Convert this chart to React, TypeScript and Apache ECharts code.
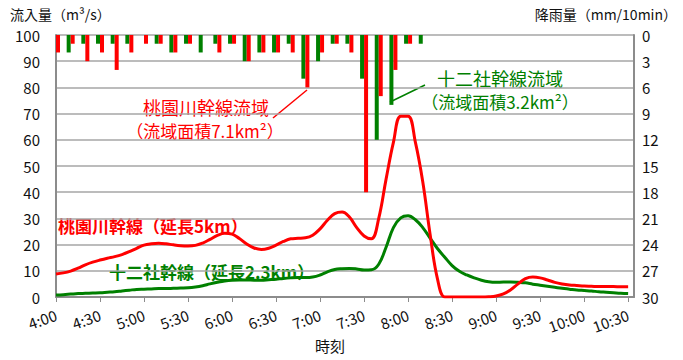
import React, { useEffect, useRef } from "react";
import * as echarts from "echarts";

// x-axis tick labels (every 30 minutes from 4:00)
const timeLabels = ["4:00", "4:30", "5:00", "5:30", "6:00", "6:30", "7:00", "7:30", "8:00", "8:30", "9:00", "9:30", "10:00", "10:30"];
const labelStepMin = 30;
const axisMaxMin = 394;

// inflow (m3/s), every 5 minutes from 4:00 to 10:30
const flowStepMin = 5;
const momozonoFlow = [
  8.8, 9.2, 9.9, 11.0, 12.3, 13.3,
  14.1, 14.8, 15.4, 16.2, 17.3, 18.6,
  19.8, 20.3, 20.5, 20.3, 19.9, 19.6,
  19.5, 19.7, 20.6, 22.0, 23.5, 24.3,
  24.0, 22.3, 20.2, 18.7, 18.1, 18.6,
  19.8, 21.2, 22.2, 22.4, 22.6, 23.6,
  26.0, 29.3, 31.8, 32.4, 30.5, 26.5,
  23.3, 22.2, 30, 45, 59, 69,
  69, 59, 44, 24, 7, 0,
  0, 0, 0, 0, 0, 0.1,
  0.4, 1.2, 2.8, 5.0, 7.0, 7.6,
  7.3, 6.5, 5.6, 5.0, 4.6, 4.4,
  4.2, 4.1, 4.0, 4.0, 4.0, 3.9,
  3.9,
];
const junisoFlow = [
  0.8, 0.9, 1.1, 1.3, 1.4, 1.5,
  1.6, 1.8, 2.0, 2.3, 2.6, 2.9,
  3.0, 3.1, 3.2, 3.2, 3.3, 3.4,
  3.5, 3.8, 4.3, 5.0, 5.6, 6.1,
  6.4, 6.5, 6.5, 6.4, 6.4, 6.6,
  6.8, 7.1, 7.3, 7.4, 7.4, 7.6,
  8.4, 9.6, 10.5, 10.8, 10.9, 10.7,
  10.3, 10.4, 12.5, 19.0, 26.5, 30.2,
  31.0, 29.5, 26.5, 22.5, 18.5, 15.2,
  12.0, 9.8, 8.4, 7.3, 6.4, 5.8,
  5.6, 5.7, 5.7, 5.6, 5.4, 4.9,
  4.5, 4.1, 3.7, 3.3, 3.0, 2.7,
  2.5, 2.3, 2.0, 1.8, 1.6, 1.4,
  1.3,
];

// rainfall (mm/10min), every 10 minutes from 4:00
const rainStepMin = 10;
const junisoRain = [0, 2, 1, 1, 1, 1, 0, 1, 2, 1, 2, 1, 1, 3, 2, 2, 1, 5, 3, 1, 1, 5, 12, 8, 1, 1];
const momozonoRain = [2, 1, 3, 2, 4, 2, 1, 1, 2, 1, 0, 2, 1, 3, 2, 2, 2, 6, 2, 1, 2, 18, 7, 4, 1, 0];

const RED = "#ff0000";
const GREEN = "#008000";
const FONT = '"Noto Sans CJK JP", "Noto Sans", sans-serif';

export default function App() {
  const ref = useRef<HTMLDivElement>(null);

  useEffect(() => {
    document.body.style.margin = "0";
    if (!ref.current) return;
    const chart = echarts.init(ref.current, undefined, { renderer: "svg" });

    const toPairs = (arr: number[], step: number) => arr.map((v, i) => [i * step, v]);
    const tickValues = timeLabels.map((_, i) => i * labelStepMin);

    chart.setOption({
      animation: false,
      textStyle: { fontFamily: FONT },
      grid: { left: 56, right: 49, top: 35, bottom: 63, containLabel: false },
      xAxis: {
        type: "value",
        min: 0,
        max: axisMaxMin,
        interval: labelStepMin,
        axisLine: { show: true, lineStyle: { color: "#8c8c8c", width: 2 } },
        axisTick: { show: true, length: 5, lineStyle: { color: "#8c8c8c", width: 1 }, customValues: tickValues },
        splitLine: { show: false },
        axisLabel: {
          rotate: 20,
          fontSize: 15,
          color: "#111",
          margin: 17,
          fontFamily: FONT,
          customValues: tickValues,
          formatter: (v: number) => (v % labelStepMin === 0 ? timeLabels[v / labelStepMin] ?? "" : ""),
        },
      },
      yAxis: [
        {
          type: "value",
          min: 0,
          max: 100,
          interval: 10,
          position: "left",
          axisLine: { show: true, lineStyle: { color: "#8c8c8c", width: 2 } },
          axisTick: { show: false },
          axisLabel: { fontSize: 15, color: "#111", margin: 16, fontFamily: FONT },
          splitLine: { show: true, lineStyle: { color: "#a6a6a6", width: 1.5 } },
        },
        {
          type: "value",
          min: 0,
          max: 30,
          interval: 3,
          inverse: true,
          position: "right",
          axisLine: { show: true, lineStyle: { color: "#8c8c8c", width: 2 } },
          axisTick: { show: false },
          axisLabel: { fontSize: 15, color: "#111", margin: 8, fontFamily: FONT },
          splitLine: { show: false },
        },
      ],
      series: [
        {
          type: "bar",
          name: "十二社幹線流域",
          xAxisIndex: 0,
          yAxisIndex: 1,
          data: toPairs(junisoRain, rainStepMin),
          barWidth: 4,
          barGap: "0%",
          itemStyle: { color: GREEN },
          z: 2,
        },
        {
          type: "bar",
          name: "桃園川幹線流域",
          xAxisIndex: 0,
          yAxisIndex: 1,
          data: toPairs(momozonoRain, rainStepMin),
          barWidth: 4,
          barGap: "0%",
          itemStyle: { color: RED },
          z: 2,
        },
        {
          type: "line",
          name: "十二社幹線",
          xAxisIndex: 0,
          yAxisIndex: 0,
          data: toPairs(junisoFlow, flowStepMin),
          smooth: 0.4,
          showSymbol: false,
          lineStyle: { color: GREEN, width: 3 },
          itemStyle: { color: GREEN },
          z: 3,
        },
        {
          type: "line",
          name: "桃園川幹線",
          xAxisIndex: 0,
          yAxisIndex: 0,
          data: toPairs(momozonoFlow, flowStepMin),
          smooth: 0.4,
          showSymbol: false,
          lineStyle: { color: RED, width: 3 },
          itemStyle: { color: RED },
          z: 4,
        },
      ],
      graphic: [
        { type: "text", x: 10, y: 14, style: { text: "流入量（m³/s）", font: `14px ${FONT}`, fill: "#111", verticalAlign: "middle" } },
        { type: "text", x: 677, y: 14, style: { text: "降雨量（mm/10min）", font: `14px ${FONT}`, fill: "#111", align: "right", verticalAlign: "middle" } },
        { type: "text", x: 330, y: 345, style: { text: "時刻", font: `15px ${FONT}`, fill: "#111", align: "center", verticalAlign: "middle" } },
        { type: "text", x: 206, y: 107, style: { text: "桃園川幹線流域", font: `18px ${FONT}`, fill: RED, align: "center", verticalAlign: "middle" } },
        { type: "text", x: 205, y: 130, style: { text: "（流域面積7.1km²）", font: `17px ${FONT}`, fill: RED, align: "center", verticalAlign: "middle" } },
        { type: "text", x: 500, y: 78, style: { text: "十二社幹線流域", font: `18px ${FONT}`, fill: GREEN, align: "center", verticalAlign: "middle" } },
        { type: "text", x: 500, y: 101, style: { text: "（流域面積3.2km²）", font: `17px ${FONT}`, fill: GREEN, align: "center", verticalAlign: "middle" } },
        { type: "text", x: 58, y: 225, style: { text: "桃園川幹線（延長5km）", font: `bold 17px ${FONT}`, fill: RED, verticalAlign: "middle" } },
        { type: "text", x: 109, y: 271, style: { text: "十二社幹線（延長2.3km）", font: `bold 17px ${FONT}`, fill: GREEN, verticalAlign: "middle" } },
        { type: "line", shape: { x1: 273, y1: 118, x2: 307, y2: 90 }, style: { stroke: RED, lineWidth: 1.5 } },
        { type: "line", shape: { x1: 390, y1: 102, x2: 425, y2: 85 }, style: { stroke: GREEN, lineWidth: 1.5 } },
      ],
    });

    return () => chart.dispose();
  }, []);

  return <div ref={ref} style={{ width: 683, height: 360 }} />;
}
